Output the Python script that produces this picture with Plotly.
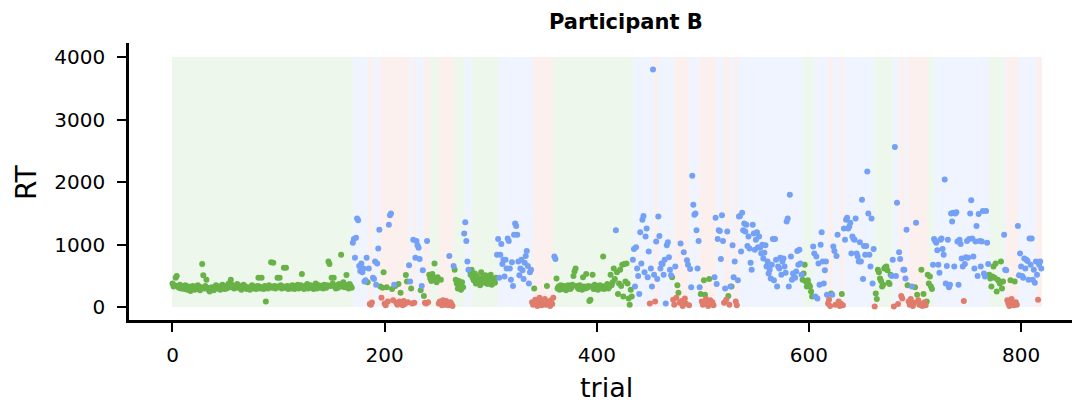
import plotly.graph_objects as go

# Reaction time (ms) for each trial, in trial order
rt_ms = [
    380, 330, 350, 470, 500, 340, 310, 360, 300, 330,
    320, 290, 350, 300, 280, 330, 310, 260, 300, 340,
    310, 280, 330, 290, 350, 300, 270, 320, 690, 510,
    300, 340, 440, 310, 280, 250, 300, 320, 290, 270,
    310, 350, 330, 300, 320, 280, 340, 360, 310, 290,
    330, 300, 350, 380, 320, 440, 360, 330, 300, 340,
    310, 370, 350, 320, 300, 280, 330, 360, 340, 310,
    290, 320, 300, 280, 310, 350, 330, 300, 320, 290,
    340, 470, 330, 300, 470, 310, 290, 340, 90, 320,
    300, 350, 330, 720, 310, 710, 340, 300, 330, 470,
    320, 470, 350, 300, 330, 630, 310, 630, 340, 290,
    330, 310, 300, 350, 320, 290, 340, 310, 360, 300,
    330, 350, 530, 310, 290, 340, 320, 370, 300, 330,
    350, 310, 340, 290, 320, 380, 300, 330, 350, 310,
    340, 320, 300, 360, 330, 310, 350, 730, 690, 340,
    470, 380, 470, 330, 300, 350, 310, 370, 330, 840,
    350, 400, 320, 360, 515, 330, 300, 370, 340, 310,
    1030, 1090, 790, 1110, 1420, 1390, 660, 580, 700, 560,
    620, 410, 430, 790, 400, 620, 50, 40, 75, 470,
    450, 730, 360, 700, 940, 1240, 330, 150, 310, 560,
    60, 30, 320, 90, 1320, 1470, 1500, 290, 110, 360,
    340, 70, 40, 370, 90, 230, 60, 30, 100, 50,
    515, 410, 80, 670, 410, 300, 60, 1080, 70, 790,
    1060, 990, 950, 770, 270, 340, 590, 180, 70, 60,
    1060, 80, 520, 460, 420, 530, 470, 700, 440, 400,
    480, 60, 90, 440, 30, 110, 70, 40, 100, 60,
    30, 820, 80, 50, 20, 660, 600, 440, 380, 300,
    420, 350, 280, 400, 320, 1180, 1360, 1060, 730, 600,
    590, 520, 600, 470, 430, 540, 380, 500, 450, 410,
    350, 560, 470, 420, 390, 510, 440, 370, 480, 400,
    520, 360, 450, 420, 390, 470, 840, 1090, 470, 840,
    1010, 690, 760, 490, 760, 620, 1100, 1060, 620, 440,
    720, 340, 1160, 1340, 1300, 1160, 730, 510, 620, 760,
    590, 450, 710, 820, 900, 660, 380, 560, 600, 80,
    40, 300, 120, 60, 20, 90, 150, 50, 30, 100,
    70, 130, 40, 340, 60, 90, 20, 110, 50, 150,
    810, 770, 460, 300, 330, 280, 350, 310, 290, 340,
    320, 270, 300, 350, 330, 290, 310, 360, 500, 570,
    620, 340, 310, 290, 350, 320, 280, 480, 330, 300,
    530, 310, 340, 100, 120, 330, 520, 290, 360, 310,
    340, 280, 320, 350, 300, 330, 810, 290, 340, 310,
    370, 300, 330, 520, 350, 400, 620, 450, 1230, 560,
    210, 380, 600, 340, 680, 170, 690, 410, 700, 380,
    140, 40, 280, 170, 760, 930, 330, 960, 620, 500,
    210, 1200, 700, 1400, 1460, 560, 1130, 1260, 480, 890,
    60, 620, 330, 3800, 520, 90, 1050, 450, 1450, 1140,
    620, 700, 690, 520, 760, 60, 990, 1040, 800, 600,
    510, 480, 120, 40, 650, 150, 350, 230, 70, 1020,
    100, 20, 880, 140, 60, 750, 680, 30, 610, 320,
    2100, 1640, 1480, 1500, 1230, 620, 1060, 320, 210, 90,
    40, 430, 200, 130, 60, 20, 450, 110, 50, 80,
    30, 480, 1430, 370, 1090, 1230, 1220, 770, 1470, 1060,
    70, 300, 120, 1210, 180, 40, 330, 330, 990, 480,
    730, 90, 30, 430, 1450, 1460, 890, 1510, 1230, 1340,
    1210, 1320, 980, 1130, 940, 710, 600, 1320, 1180, 920,
    1080, 1200, 960, 1130, 950, 860, 1000, 780, 870, 990,
    650, 730, 540, 600, 460, 680, 1090, 430, 1090, 760,
    330, 650, 620, 790, 520, 730, 780, 650, 550, 1370,
    1420, 330, 1800, 810, 440, 540, 480, 470, 570, 900,
    680, 920, 700, 520, 440, 540, 680, 410, 330, 430,
    360, 330, 250, 170, 970, 860, 170, 810, 140, 700,
    360, 1000, 1200, 730, 380, 590, 730, 200, 60, 120,
    20, 220, 200, 970, 900, 40, 820, 1160, 90, 20,
    60, 210, 30, 1260, 1080, 1400, 1430, 1260, 1290, 1350,
    860, 1130, 1090, 1080, 1420, 860, 810, 730, 1040, 730,
    1720, 450, 980, 840, 980, 2170, 1500, 840, 650, 1420,
    380, 930, 10, 220, 130, 600, 560, 460, 420, 330,
    360, 620, 640, 650, 590, 390, 370, 520, 500, 760,
    10, 2560, 500, 1670, 50, 880, 770, 180, 140, 600,
    600, 460, 1240, 350, 90, 40, 130, 330, 20, 70,
    320, 1350, 200, 110, 40, 60, 600, 20, 210, 80,
    30, 90, 520, 380, 490, 330, 290, 680, 1090, 1060,
    1030, 910, 680, 550, 1080, 1100, 930, 840, 2040, 380,
    660, 1080, 320, 360, 1500, 1370, 1510, 650, 1500, 1520,
    1050, 360, 1080, 1010, 780, 650, 100, 690, 800, 1060,
    790, 1090, 1500, 1710, 1100, 810, 620, 1050, 1300, 500,
    1490, 1060, 650, 1050, 1540, 540, 490, 1540, 1030, 690,
    520, 460, 330, 490, 650, 470, 700, 250, 440, 420,
    380, 730, 300, 410, 1160, 600, 590, 110, 60, 20,
    430, 130, 50, 30, 410, 80, 40, 1300, 510, 860,
    650, 500, 470, 780, 620, 760, 740, 440, 1100, 680,
    1100, 440, 600, 390, 730, 520, 120, 680, 730, 620,
]

# Response class per trial: g = green, b = blue, r = red
outcome = (
    "gggggggggg" "gggggggggg" "gggggggggg" "gggggggggg" "gggggggggg"
    "gggggggggg" "gggggggggg" "gggggggggg" "gggggggggg" "gggggggggg"
    "gggggggggg" "gggggggggg" "gggggggggg" "gggggggggg" "gggggggggg"
    "gggggggggg" "gggggggggg"
    "bbbbbbbbbb" "bbbbgbrrrb" "bbbbbbgrgg" "rrgrbbbgrb" "grrgrgrrrr"
    "ggrbbgrbrb" "bbbbgbbgrr" "brgggggggg" "grrgrrrrrr" "rbrrrbgggg"
    "gggggbbbbb" "gggggggggg" "gggggggggg" "ggggggbbbb" "bbbbbbbbbb"
    "bbbbbbbbbb" "bbbbbbbbbr" "rgrrrrrrrr" "rrrgrrrrrr" "bbgggggggg"
    "gggggggggg" "gggggggggg" "gggggggggg" "gggggggggg" "ggggggggbg"
    "gggggggggg" "ggggbbbbbb" "bbbbbbbbbb" "rbbbbrbbbb" "bbbbbbbbbb"
    "bgrrbrggrb" "rrbrrbbrbb" "bbbbbbbbgr" "rggrrrgrrr" "rbbbbbbbbb"
    "rbrbgrbgbb" "brrbbbbbbb" "bbbbbbbbbb" "bbbbbbbbbb" "bbbbbbbbbb"
    "bbbbbbbbbb" "bbbbbbbbbb" "bbbbgggggg" "ggggbbbbbb" "bbbbbbbbrr"
    "rgbbbrbbrr" "rgrbbbbbbb" "bbbbbbbbbb" "bbbbbbbbbb" "bbrggggggg"
    "ggggggggbb" "rbbbrbbrrb" "bbbgrrrbrr" "gbgrrrgrgr" "rggggggbbb"
    "bbbbbbbbbb" "bbbbbbbbbb" "bbbbbbrbbb" "bbbbbbbbbb" "bbbbbbbbbb"
    "gggggggggg" "ggggbbbrrr" "grrrgrrbbb" "bbbbbbbbbb" "bbbbbbrbbb"
)

trial = list(range(len(rt_ms)))

# Inferred state per block of trials (shaded behind the points)
band_start = [0, 170, 184, 189, 196, 223, 227, 230, 237, 243, 251, 265, 276,
              282, 307, 340, 359, 434, 454, 458, 473, 487, 496, 512, 520,
              526, 529, 533, 594, 605, 618, 623, 629, 633, 661, 679, 685,
              691, 693, 712, 718, 770, 784, 786, 797, 814]
band_end = [170, 184, 189, 196, 223, 227, 230, 237, 243, 251, 265, 276, 282,
            307, 340, 359, 434, 454, 458, 473, 487, 496, 512, 520, 526,
            529, 533, 594, 605, 618, 623, 629, 633, 661, 679, 685, 691,
            693, 712, 718, 770, 784, 786, 797, 814, 820]
band_state = ["g", "b", "r", "b", "r", "b", "r", "b", "r", "g", "r", "g", "b",
              "g", "b", "r", "g", "b", "r", "b", "r", "b", "r", "b", "r",
              "b", "r", "b", "g", "b", "r", "b", "r", "b", "g", "b", "r",
              "b", "r", "g", "b", "g", "b", "r", "b", "r"]
band_top = 4000

point_colors = {"g": "#68b247", "b": "#74a0f6", "r": "#e07c6c"}
band_colors = {"g": "#edf7ec", "b": "#eff4fe", "r": "#fcf0ee"}

fig = go.Figure()

for state in ["g", "b", "r"]:
    idx = [i for i, s in enumerate(band_state) if s == state]
    fig.add_trace(go.Bar(
        x=[band_start[i] for i in idx],
        width=[band_end[i] - band_start[i] for i in idx],
        y=[band_top for _ in idx],
        base=0,
        offset=0,
        marker=dict(color=band_colors[state], line=dict(width=0)),
        hoverinfo="skip",
        showlegend=False,
    ))

for kind in ["g", "b", "r"]:
    xs = [t for t in trial if outcome[t] == kind]
    ys = [rt_ms[t] for t in trial if outcome[t] == kind]
    fig.add_trace(go.Scatter(
        x=xs, y=ys, mode="markers",
        marker=dict(color=point_colors[kind], size=6, line=dict(width=0)),
        showlegend=False,
    ))

font_family = "DejaVu Sans"
axis_common = dict(
    showline=True, linecolor="black", linewidth=2.5,
    ticks="outside", ticklen=9, tickwidth=2, tickcolor="black",
    showgrid=False, zeroline=False,
    tickfont=dict(family=font_family, size=20, color="black"),
)

fig.update_layout(
    width=1074, height=409,
    margin=dict(l=129, r=2, t=43, b=89),
    plot_bgcolor="white", paper_bgcolor="white",
    barmode="overlay", bargap=0,
    showlegend=False,
    xaxis=dict(range=[-41, 848], tickvals=[0, 200, 400, 600, 800],
               ticklabelstandoff=6, **axis_common),
    yaxis=dict(range=[-205, 4225], tickvals=[0, 1000, 2000, 3000, 4000],
               ticklabelstandoff=8, **axis_common),
    annotations=[
        dict(text="<b>Participant B</b>", x=0.527, y=1.076, xref="paper", yref="paper",
             showarrow=False, xanchor="center", yanchor="middle",
             font=dict(family=font_family, size=21, color="black")),
        dict(text="trial", x=0.506, y=-0.245, xref="paper", yref="paper",
             showarrow=False, xanchor="center", yanchor="middle",
             font=dict(family=font_family, size=27, color="black")),
        dict(text="RT", x=-0.108, y=0.495, xref="paper", yref="paper",
             showarrow=False, xanchor="center", yanchor="middle", textangle=-90,
             font=dict(family=font_family, size=28, color="black")),
    ],
)

fig.write_html("out.html")
